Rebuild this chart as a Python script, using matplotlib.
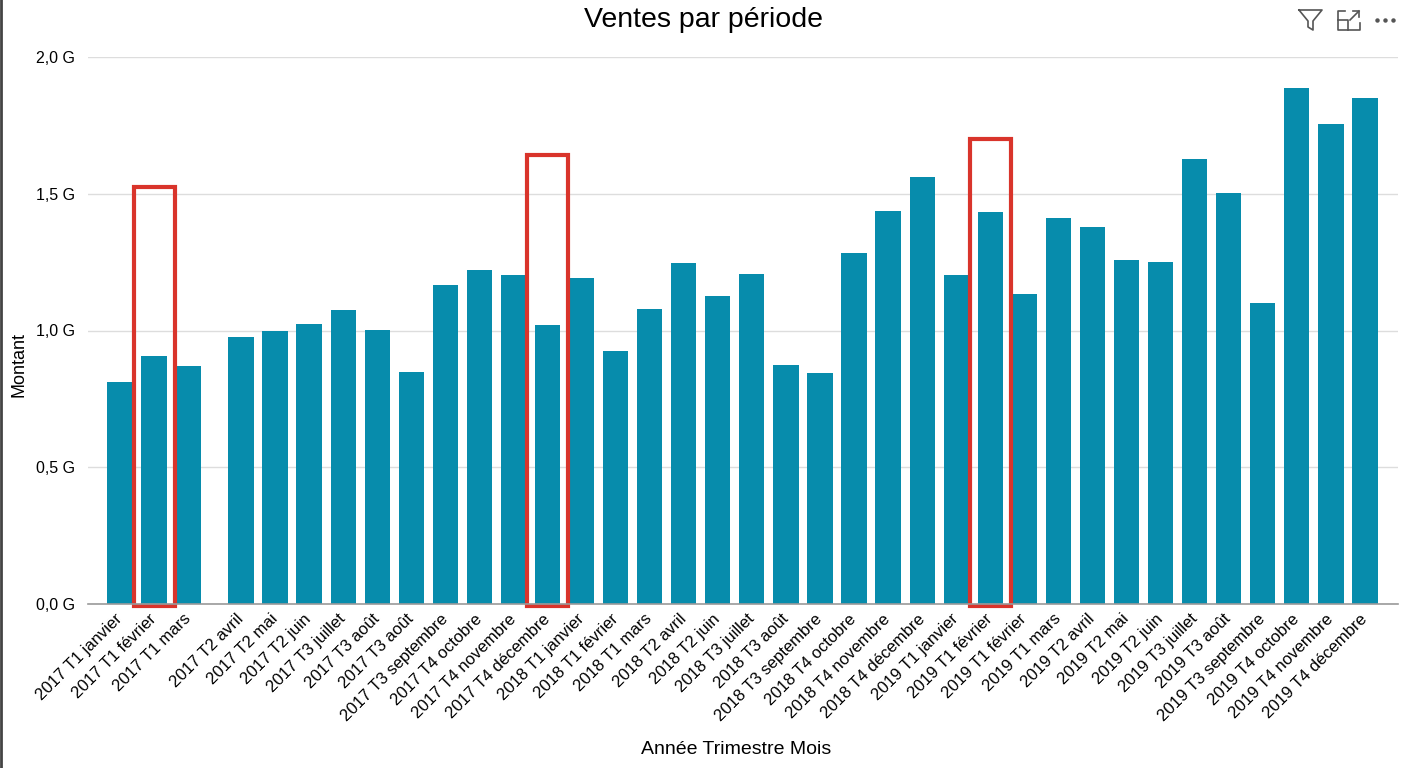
import matplotlib

matplotlib.use("Agg")
import matplotlib.pyplot as plt
import numpy as np
from matplotlib.lines import Line2D
from matplotlib.patches import Rectangle
from matplotlib.transforms import ScaledTranslation

plt.rcParams["font.family"] = ["Liberation Sans", "DejaVu Sans"]

# data
periods = [
    "2017 T1 janvier", "2017 T1 février", "2017 T1 mars",
    "2017 T2 avril", "2017 T2 mai", "2017 T2 juin",
    "2017 T3 juillet", "2017 T3 août", "2017 T3 août", "2017 T3 septembre",
    "2017 T4 octobre", "2017 T4 novembre", "2017 T4 décembre",
    "2018 T1 janvier", "2018 T1 février", "2018 T1 mars",
    "2018 T2 avril", "2018 T2 juin",
    "2018 T3 juillet", "2018 T3 août", "2018 T3 septembre",
    "2018 T4 octobre", "2018 T4 novembre", "2018 T4 décembre",
    "2019 T1 janvier", "2019 T1 février", "2019 T1 février", "2019 T1 mars",
    "2019 T2 avril", "2019 T2 mai", "2019 T2 juin",
    "2019 T3 juillet", "2019 T3 août", "2019 T3 septembre",
    "2019 T4 octobre", "2019 T4 novembre", "2019 T4 décembre",
]
amounts = [
    0.813, 0.906, 0.870,
    0.975, 0.998, 1.024,
    1.075, 1.001, 0.849, 1.165,
    1.221, 1.203, 1.020,
    1.191, 0.924, 1.079,
    1.246, 1.127,
    1.205, 0.873, 0.843,
    1.284, 1.437, 1.560,
    1.203, 1.432, 1.132, 1.410,
    1.380, 1.258, 1.249,
    1.628, 1.502, 1.102,
    1.886, 1.756, 1.851,
]  # en milliards
highlight_idx = [1, 12, 25]
highlight_top = [1.525, 1.64, 1.70]
y_ticks = [0.0, 0.5, 1.0, 1.5, 2.0]
y_tick_labels = ["0,0 G", "0,5 G", "1,0 G", "1,5 G", "2,0 G"]

BAR_COLOR = "#078cac"
W, H = 1408, 768

fig = plt.figure(figsize=(W / 100, H / 100), dpi=100)
ax = fig.add_axes([88 / W, (H - 604) / H, (1398 - 88) / W, (604 - 57) / H])

# there is a small gap after the third bar in the original
x = np.arange(len(amounts)) + 0.55 * (np.arange(len(amounts)) >= 3)
ax.bar(x, amounts, width=0.74, color=BAR_COLOR, zorder=2)

for i, top in zip(highlight_idx, highlight_top):
    ax.add_patch(Rectangle((x[i] - 0.6, -0.008), 1.2, top + 0.008, fill=False,
                           edgecolor="#d9342b", linewidth=3, zorder=3, clip_on=False))

ax.set_xlim(-0.94, 37.52)
ax.set_ylim(0, 2.0)
ax.set_yticks(y_ticks)
ax.set_yticklabels(y_tick_labels, fontsize=11.5)
ax.set_xticks(x)
ax.set_xticklabels(periods, rotation=45, ha="right", va="center",
                   rotation_mode="anchor", fontsize=12)
# nudge the rotated labels a little to the right, like the original
shift = ScaledTranslation(5 / 100, 0, fig.dpi_scale_trans)
for lab in ax.get_xticklabels():
    lab.set_transform(lab.get_transform() + shift)
ax.tick_params(length=0)
ax.tick_params(axis="x", pad=9)
ax.tick_params(axis="y", pad=9)
ax.grid(axis="y", color="#dddddd", linewidth=1, zorder=0)
for s in ["top", "right", "left"]:
    ax.spines[s].set_visible(False)
ax.spines["bottom"].set_color("#9a9a9a")
ax.spines["bottom"].set_linewidth(1.2)
ax.spines["bottom"].set_zorder(4)

ax.set_ylabel("Montant", fontsize=13)
ax.yaxis.set_label_coords(-0.046, 0.437)
ax.set_xlabel("Année Trimestre Mois", fontsize=14)
ax.xaxis.set_label_coords((736 - 88) / (1398 - 88), -(741 - 604) / (604 - 57))

fig.text(704 / W, 1 - 20 / H, "Ventes par période", fontsize=20.5, ha="center", va="center")


def px(xs, ys):
    return [v / W for v in xs], [1 - v / H for v in ys]


# toolbar icons top right
icon = dict(color="#555555", linewidth=1.2, transform=fig.transFigure)
fig.add_artist(Line2D(*px([1299, 1322, 1313, 1313, 1308, 1308, 1299], [10, 10, 21, 30, 27, 21, 10]), **icon))
fig.add_artist(Line2D(*px([1345, 1338, 1338, 1360, 1360], [11, 11, 30, 30, 23]), **icon))
fig.add_artist(Line2D(*px([1338, 1348, 1348], [20, 20, 30]), **icon))
fig.add_artist(Line2D(*px([1350, 1359], [20, 11]), **icon))
fig.add_artist(Line2D(*px([1353, 1359, 1359], [11, 11, 17]), **icon))
for dx in [1377, 1385, 1393]:
    fig.add_artist(Line2D(*px([dx], [20]), marker="o", markersize=2.2, color="#555555",
                          transform=fig.transFigure))

# left frame edge
fig.add_artist(Line2D(*px([1, 1], [0, H]), color="#444444", linewidth=2, transform=fig.transFigure))

fig.savefig("out.png", dpi=100)
